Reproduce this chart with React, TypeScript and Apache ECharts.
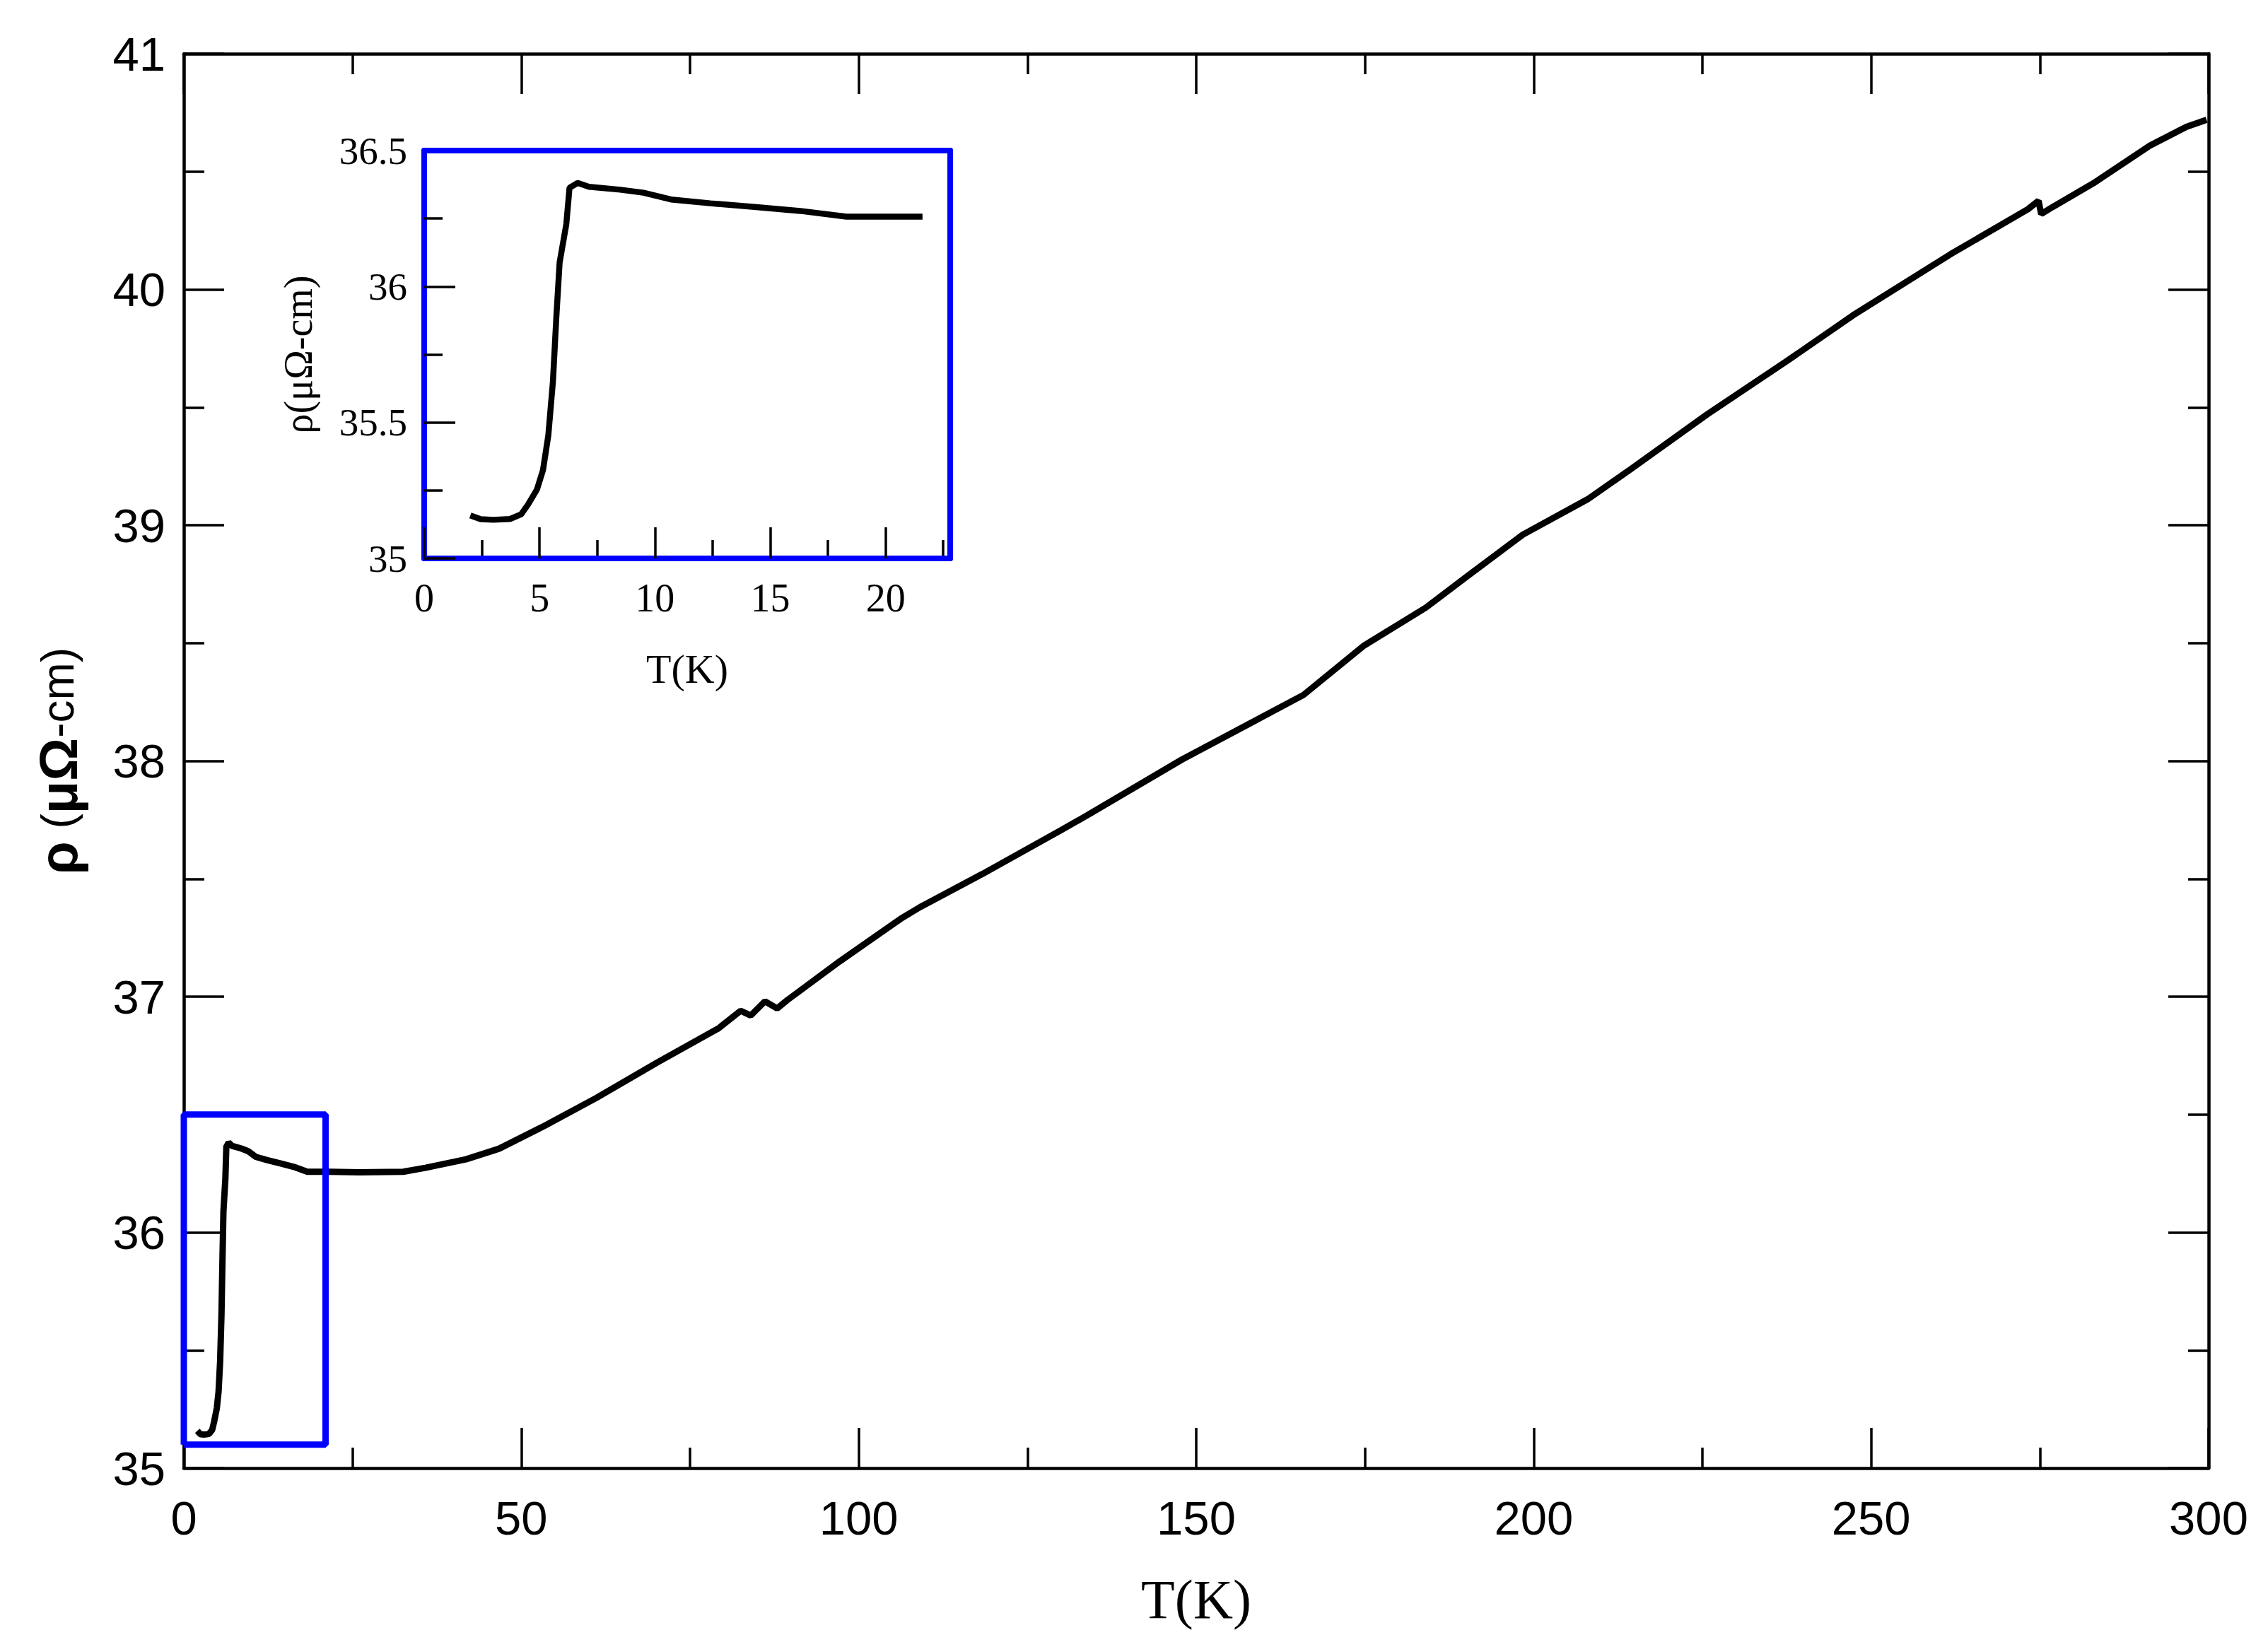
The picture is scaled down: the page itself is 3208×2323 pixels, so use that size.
import React, { useEffect, useRef } from "react";
import * as echarts from "echarts";

// ---- data ----
const temperatureK = [
  2.0, 2.45, 3.0, 3.72, 4.2, 4.5, 4.89, 5.15, 5.38, 5.58, 5.73, 5.87, 6.16, 6.3, 6.65, 7.14,
  8.5, 9.5, 10.7, 12.4, 14.4, 16.3, 18.3, 21.6, 26.0, 32.5, 35.8, 41.8, 46.7, 53.3, 61.1,
  70.1, 79.2, 82.5, 84.0, 86.1, 87.9, 89.4, 97.2, 106.2, 109.1, 118.3, 129.9, 133.9, 147.9,
  165.9, 174.9, 184.0, 190.0, 198.4, 208.0, 214.0, 225.7, 237.7, 247.3, 261.8, 273.2, 274.8,
  275.2, 276.9, 282.9, 291.3, 296.7, 299.7,
];
const resistivity = [
  35.158, 35.144, 35.142, 35.145, 35.162, 35.198, 35.254, 35.325, 35.452, 35.65, 35.89,
  36.088, 36.229, 36.363, 36.381, 36.367, 36.356, 36.345, 36.32, 36.306, 36.292, 36.278,
  36.257, 36.257, 36.255, 36.257, 36.274, 36.31, 36.355, 36.45, 36.57, 36.72, 36.865, 36.94,
  36.92, 36.98, 36.95, 36.985, 37.15, 37.33, 37.38, 37.52, 37.705, 37.77, 38.006, 38.28,
  38.49, 38.65, 38.78, 38.96, 39.11, 39.23, 39.47, 39.7, 39.89, 40.15, 40.34, 40.376, 40.32,
  40.35, 40.45, 40.61, 40.69, 40.72,
];

const mainXRange = [0, 300];
const mainXStep = 50;
const mainYRange = [35, 41];
const mainYStep = 1;

const insetXRange = [0, 22.8];
const insetXLabels = [0, 5, 10, 15, 20];
const insetXMinor = [2.5, 7.5, 12.5, 17.5, 22.5];
const insetYRange = [35, 36.5];
const insetYStep = 0.5;
const insetTMax = 22;

const boxT = [0, 21];
const boxRho = [35.1, 36.5];

const mainXTitle = "T(K)";
const insetXTitle = "T(K)";
const insetYTitle = "ρ(μΩ-cm)";

export default function App() {
  const ref = useRef<HTMLDivElement>(null);

  useEffect(() => {
    if (!ref.current) return;
    const chart = echarts.init(ref.current, undefined, { renderer: "svg" });

    const mainData = temperatureK.map((t, i) => [t, resistivity[i]]);
    const insetData = mainData.filter((p) => p[0] <= insetTMax);
    const boxData = [
      [boxT[0], boxRho[0]],
      [boxT[1], boxRho[0]],
      [boxT[1], boxRho[1]],
      [boxT[0], boxRho[1]],
      [boxT[0], boxRho[0]],
    ];

    const black = "#000000";
    const blue = "#0000ff";
    const mainLabel = { fontFamily: "Liberation Sans", fontSize: 67, color: black };
    const insetLabel = { fontFamily: "Liberation Serif", fontSize: 55, color: black };
    const mainTick = () => ({ show: true, inside: true, length: 57, lineStyle: { color: black, width: 3.5 } });
    const mainMinor = () => ({ show: true, splitNumber: 2, length: 29, lineStyle: { color: black, width: 3.5 } });
    const mainLine = () => ({ show: true, onZero: false, lineStyle: { color: black, width: 4.5 } });
    const blueLine = () => ({ show: true, onZero: false, lineStyle: { color: blue, width: 8 } });

    const insetGrid = { left: 600, top: 213, width: 744, height: 577 };

    chart.setOption({
      animation: false,
      backgroundColor: "#ffffff",
      grid: [
        { left: 260, top: 76, width: 2864, height: 2001 },
        { ...insetGrid },
        { ...insetGrid },
      ],
      xAxis: [
        {
          type: "value", gridIndex: 0, position: "bottom",
          min: mainXRange[0], max: mainXRange[1], interval: mainXStep,
          axisLine: mainLine(), axisTick: mainTick(), minorTick: mainMinor(),
          splitLine: { show: false },
          axisLabel: { ...mainLabel, margin: 37 },
          name: mainXTitle, nameLocation: "middle", nameGap: 146,
          nameTextStyle: { fontFamily: "Liberation Serif", fontSize: 78, color: black },
        },
        {
          type: "value", gridIndex: 0, position: "top",
          min: mainXRange[0], max: mainXRange[1], interval: mainXStep,
          axisLine: mainLine(), axisTick: mainTick(), minorTick: mainMinor(),
          splitLine: { show: false }, axisLabel: { show: false },
        },
        {
          type: "value", gridIndex: 1, position: "bottom",
          min: insetXRange[0], max: insetXRange[1], interval: 5,
          axisLine: blueLine(),
          axisTick: { show: true, inside: true, length: 44, customValues: insetXLabels, lineStyle: { color: black, width: 3.5 } },
          splitLine: { show: false },
          axisLabel: { ...insetLabel, fontSize: 56, margin: 28, customValues: insetXLabels },
          name: insetXTitle, nameLocation: "middle", nameGap: 127,
          nameTextStyle: { fontFamily: "Liberation Serif", fontSize: 58, color: black },
          z: 3,
        },
        {
          type: "value", gridIndex: 1, position: "top",
          min: insetXRange[0], max: insetXRange[1],
          axisLine: blueLine(), axisTick: { show: false }, axisLabel: { show: false },
          splitLine: { show: false }, z: 10,
        },
        {
          type: "value", gridIndex: 2, position: "bottom",
          min: insetXRange[0], max: insetXRange[1], interval: 2.5,
          axisLine: { show: false, onZero: false },
          axisTick: { show: true, inside: true, length: 26, customValues: insetXMinor, lineStyle: { color: black, width: 3.5 } },
          axisLabel: { show: false }, splitLine: { show: false }, z: 2,
        },
      ],
      yAxis: [
        {
          type: "value", gridIndex: 0, position: "left",
          min: mainYRange[0], max: mainYRange[1], interval: mainYStep,
          axisLine: mainLine(), axisTick: mainTick(), minorTick: mainMinor(),
          splitLine: { show: false },
          axisLabel: { ...mainLabel, margin: 26 },
          name: "{g|ρ}{l| (}{g|μΩ}{l|-cm)}", nameLocation: "middle", nameGap: 140,
          nameTextStyle: {
            color: black,
            rich: {
              g: { fontFamily: "Liberation Sans", fontWeight: "bold", fontSize: 76, color: black },
              l: { fontFamily: "Liberation Sans", fontSize: 64, color: black },
            },
          },
        },
        {
          type: "value", gridIndex: 0, position: "right",
          min: mainYRange[0], max: mainYRange[1], interval: mainYStep,
          axisLine: mainLine(), axisTick: mainTick(), minorTick: mainMinor(),
          splitLine: { show: false }, axisLabel: { show: false },
        },
        {
          type: "value", gridIndex: 1, position: "left",
          min: insetYRange[0], max: insetYRange[1], interval: insetYStep,
          axisLine: blueLine(),
          axisTick: { show: true, inside: true, length: 44, lineStyle: { color: black, width: 3.5 } },
          minorTick: { show: true, splitNumber: 2, length: 26, lineStyle: { color: black, width: 3.5 } },
          splitLine: { show: false },
          axisLabel: { ...insetLabel, margin: 24 },
          name: insetYTitle, nameLocation: "middle", nameGap: 150,
          nameTextStyle: { fontFamily: "Liberation Serif", fontSize: 56, color: black },
          z: 3,
        },
        {
          type: "value", gridIndex: 1, position: "right",
          min: insetYRange[0], max: insetYRange[1],
          axisLine: blueLine(), axisTick: { show: false }, axisLabel: { show: false },
          splitLine: { show: false }, z: 10,
        },
        {
          type: "value", gridIndex: 2, show: false,
          min: insetYRange[0], max: insetYRange[1],
          axisLine: { show: false, onZero: false },
        },
      ],
      series: [
        {
          type: "line", xAxisIndex: 0, yAxisIndex: 0, data: mainData,
          symbol: "none", lineStyle: { color: black, width: 9 }, z: 4,
        },
        {
          type: "line", xAxisIndex: 0, yAxisIndex: 0, data: boxData,
          symbol: "none", lineStyle: { color: blue, width: 9 }, z: 5, clip: false,
        },
        {
          type: "line", xAxisIndex: 2, yAxisIndex: 2, data: insetData,
          symbol: "none", lineStyle: { color: black, width: 8.5 }, z: 4,
        },
      ],
    });

    return () => chart.dispose();
  }, []);

  return (
    <div
      ref={ref}
      style={{ position: "fixed", left: 0, top: 0, width: 3208, height: 2323, background: "#ffffff" }}
    />
  );
}
